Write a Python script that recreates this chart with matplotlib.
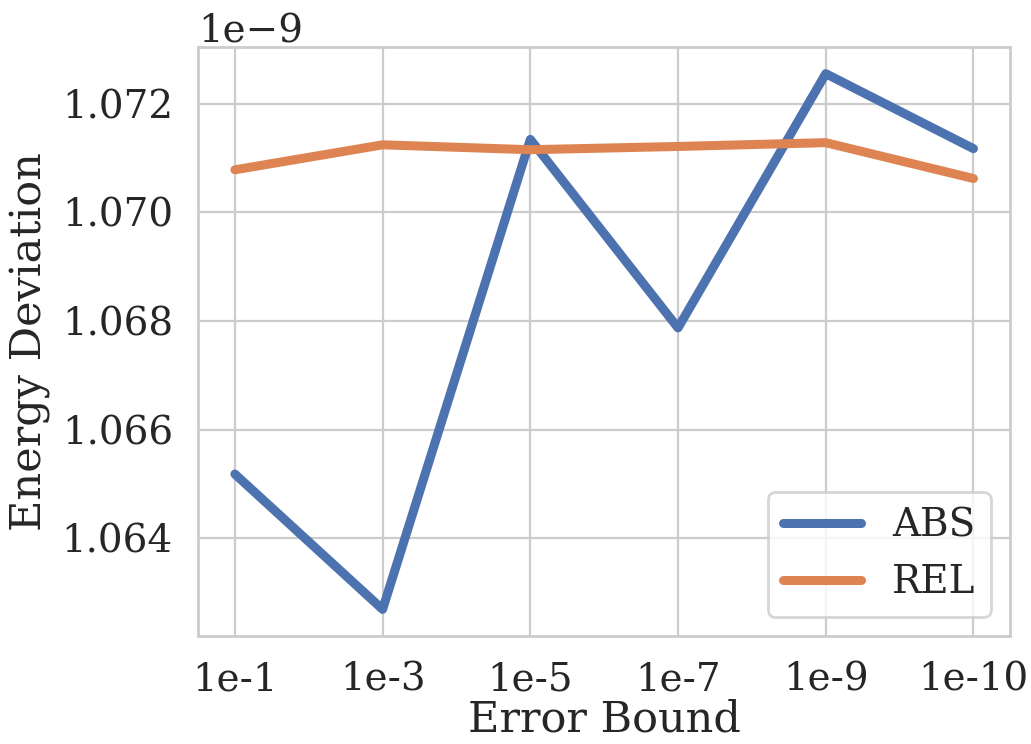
import matplotlib
matplotlib.use("Agg")
import matplotlib.pyplot as plt
import seaborn as sns

error_bounds = ["1e-1", "1e-3", "1e-5", "1e-7", "1e-9", "1e-10"]
abs_energy = [1.06518e-9, 1.06269e-9, 1.07134e-9, 1.06787e-9, 1.07255e-9, 1.07117e-9]
rel_energy = [1.07078e-9, 1.07124e-9, 1.07115e-9, 1.07121e-9, 1.07128e-9, 1.07062e-9]

sns.set_theme(style="whitegrid")
plt.rcParams["font.family"] = ["DejaVu Serif"]
plt.rcParams["grid.linewidth"] = 1.6
plt.rcParams["axes.linewidth"] = 2.0

fs = 28
label_fs = 31
fig, ax = plt.subplots(figsize=(10.31, 7.44), dpi=100)
xpos = range(len(error_bounds))
ax.plot(xpos, abs_energy, lw=6.5, label="ABS", color=sns.color_palette()[0])
ax.plot(xpos, rel_energy, lw=6.5, label="REL", color=sns.color_palette()[1])
ax.set_xticks(list(xpos))
ax.set_xticklabels(error_bounds)
ax.tick_params(labelsize=fs, pad=12)
ax.yaxis.get_offset_text().set_fontsize(fs)
ax.set_xlabel("Error Bound", fontsize=label_fs, labelpad=0)
ax.set_ylabel("Energy Deviation", fontsize=label_fs, labelpad=8)
leg = ax.legend(loc="lower right", fontsize=fs)
leg.get_frame().set_linewidth(2.0)
fig.subplots_adjust(left=0.192, right=0.980, top=0.937, bottom=0.145)
plt.savefig("out.png")
